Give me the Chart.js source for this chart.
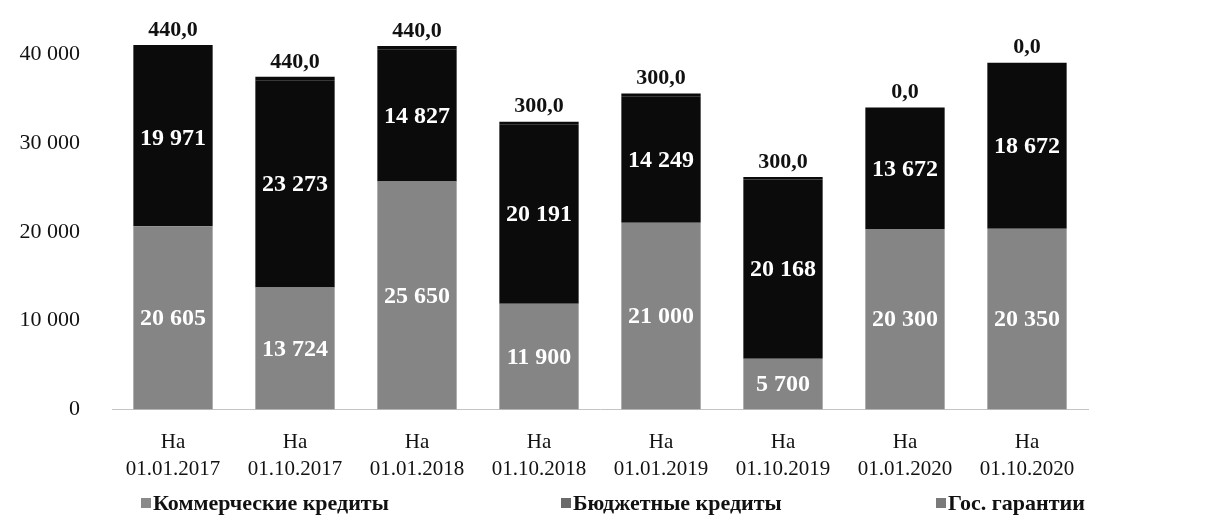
<!DOCTYPE html>
<html>
<head>
<meta charset="utf-8">
<script src="https://cdn.jsdelivr.net/npm/chart.js@4/dist/chart.umd.min.js"></script>
<style>
html,body{margin:0;padding:0;background:#fff;}
#wrap{position:relative;width:1208px;height:517px;}
</style>
</head>
<body>
<div id="wrap"><canvas id="c" width="1208" height="517"></canvas></div>
<script>
const categories = [
  ["На","01.01.2017"],["На","01.10.2017"],["На","01.01.2018"],["На","01.10.2018"],
  ["На","01.01.2019"],["На","01.10.2019"],["На","01.01.2020"],["На","01.10.2020"]
];
const seriesNames = ["Коммерческие кредиты","Бюджетные кредиты","Гос. гарантии"];
const commercial = [20605, 13724, 25650, 11900, 21000, 5700, 20300, 20350];
const budget     = [19971, 23273, 14827, 20191, 14249, 20168, 13672, 18672];
const guarantees = [440, 440, 440, 300, 300, 300, 0, 0];
const yTicks = [0, 10000, 20000, 30000, 40000];

const FONT = "'Liberation Serif','Times New Roman',serif";
const fmtInt = v => String(Math.round(v)).replace(/\B(?=(\d{3})+(?!\d))/g, ' ');
const fmtDec = v => v.toFixed(1).replace('.', ',');

const labelPlugin = {
  id: 'segLabels',
  afterDatasetsDraw(chart) {
    const ctx = chart.ctx;
    ctx.save();
    ctx.textAlign = 'center';
    chart.data.datasets.forEach((ds, di) => {
      const meta = chart.getDatasetMeta(di);
      meta.data.forEach((el, i) => {
        const v = ds.data[i];
        if (di < 2) {
          ctx.font = "bold 24px " + FONT;
          ctx.fillStyle = '#ffffff';
          ctx.textBaseline = 'middle';
          ctx.fillText(fmtInt(v), el.x, (el.y + el.base) / 2 + 1);
        } else {
          ctx.font = "bold 22px " + FONT;
          ctx.fillStyle = '#111111';
          ctx.textBaseline = 'bottom';
          ctx.fillText(fmtDec(v), el.x, Math.min(el.y, el.base) - 4);
        }
      });
    });
    ctx.restore();
  }
};

// Legend drawn as a single row under the axis (Excel-like spacing)
const legendPlugin = {
  id: 'rowLegend',
  afterDraw(chart, args, opts) {
    const ctx = chart.ctx;
    ctx.save();
    ctx.font = "bold 22px " + FONT;
    ctx.textBaseline = 'middle';
    ctx.textAlign = 'left';
    chart.data.datasets.forEach((ds, i) => {
      const x = opts.slots[i];
      const y = opts.y;
      ctx.fillStyle = opts.colors[i];
      ctx.fillRect(x, y - 5, 10, 10);
      ctx.fillStyle = '#111';
      ctx.fillText(ds.label, x + 12, y + 1);
    });
    ctx.restore();
  }
};

new Chart(document.getElementById('c'), {
  type: 'bar',
  data: {
    labels: categories,
    datasets: [
      { label: seriesNames[0], data: commercial, backgroundColor: '#858585' },
      { label: seriesNames[1], data: budget, backgroundColor: '#0b0b0b' },
      { label: seriesNames[2], data: guarantees, backgroundColor: '#0b0b0b' }
    ]
  },
  options: {
    responsive: false,
    animation: false,
    devicePixelRatio: 1,
    layout: { padding: { left: 0, right: 120, top: 0, bottom: 23 } },
    datasets: { bar: { barPercentage: 0.65, categoryPercentage: 1.0 } },
    scales: {
      x: {
        stacked: true,
        grid: { display: false },
        border: { display: true, color: '#c4c4c4', width: 1, dash: [2, 3] },
        ticks: {
          color: '#111',
          font: { family: FONT, size: 21, lineHeight: 1.3 },
          padding: 11,
          maxRotation: 0,
          autoSkip: false
        }
      },
      y: {
        stacked: true,
        min: 0,
        max: 41900,
        grid: { display: false },
        border: { display: false },
        afterBuildTicks(axis) {
          axis.ticks = yTicks.map(v => ({ value: v }));
        },
        afterFit(axis) { axis.width = 112; },
        ticks: {
          color: '#111',
          font: { family: FONT, size: 22 },
          padding: 24,
          callback: v => fmtInt(v)
        }
      }
    },
    plugins: {
      legend: { display: false },
      tooltip: { enabled: false },
      rowLegend: {
        slots: [141, 561, 936],
        y: 503,
        colors: ['#8a8a8a', '#6a6a6a', '#7a7a7a']
      }
    }
  },
  plugins: [labelPlugin, legendPlugin]
});
</script>
</body>
</html>
